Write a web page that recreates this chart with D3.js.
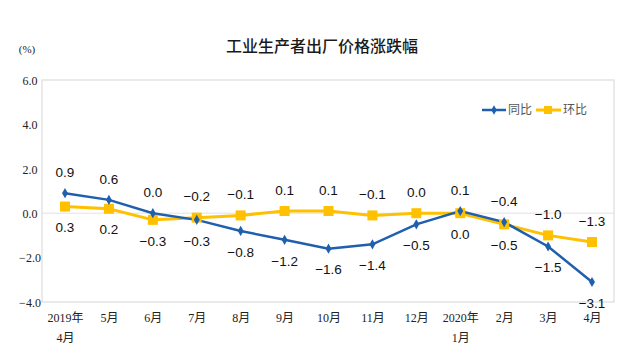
<!DOCTYPE html>
<html><head><meta charset="utf-8">
<script src="https://cdn.jsdelivr.net/npm/d3@7/dist/d3.min.js"></script>
<style>body{margin:0;background:#fff}svg{display:block}</style>
</head><body><svg id="c" width="632" height="355"></svg>
<script>
const categories = [["2019年","4月"],["5月"],["6月"],["7月"],["8月"],["9月"],["10月"],["11月"],["12月"],["2020年","1月"],["2月"],["3月"],["4月"]];
const yoy = [0.9,0.6,0.0,-0.3,-0.8,-1.2,-1.6,-1.4,-0.5,0.1,-0.4,-1.5,-3.1];
const mom = [0.3,0.2,-0.3,-0.2,-0.1,0.1,0.1,-0.1,0.0,0.0,-0.5,-1.0,-1.3];
// label placement: 1 = above, -1 = below
const yoyPos = [1,1,1,-1,-1,-1,-1,-1,-1,1,1,-1,-1];
const momPos = [-1,-1,-1,1,1,1,1,1,1,-1,-1,1,1];
const yTicks = [6,4,2,0,-2,-4];
const seriesNames = ["同比","环比"];

const svg = d3.select("#c");
const L=42,R=614,T=80,B=302;
const x = d3.scalePoint().domain(d3.range(categories.length)).range([65,592]);
const y = d3.scaleLinear().domain([-4,6]).range([B,T]);

svg.append("text").attr("x",322).attr("y",52).attr("text-anchor","middle")
  .attr("font-family","Noto Sans CJK SC").attr("font-weight",500).attr("font-size",16).attr("fill","#1a1a1a").text("工业生产者出厂价格涨跌幅");
svg.append("text").attr("x",27).attr("y",53).attr("text-anchor","middle")
  .attr("font-family","Liberation Serif").attr("font-size",11).attr("fill","#222").text("(%)");

svg.append("rect").attr("x",L).attr("y",T).attr("width",R-L).attr("height",B-T)
  .attr("fill","none").attr("stroke","#dcdcdc").attr("stroke-width",1.2);
svg.append("line").attr("x1",L).attr("x2",R).attr("y1",y(0)).attr("y2",y(0)).attr("stroke","#e3e3e3").attr("stroke-width",1);

const ya = d3.axisLeft(y).tickValues(yTicks).tickFormat(d3.format(".1f")).tickSize(0).tickPadding(0);
const gy = svg.append("g").attr("transform",`translate(${30},0)`).call(ya);
gy.select(".domain").remove();
gy.selectAll("text").attr("text-anchor","middle").attr("font-family","Liberation Serif").attr("font-size",12).attr("fill","#222").attr("dy","0.35em");

const xa = d3.axisBottom(x).tickSize(0).tickFormat(()=>"");
const gx = svg.append("g").attr("transform",`translate(0,${B})`).call(xa);
gx.select(".domain").remove();
gx.selectAll(".tick").each(function(d){
  const t = d3.select(this).append("text").attr("text-anchor","middle").attr("font-family","Liberation Serif, Noto Sans CJK SC").attr("font-size",12).attr("fill","#222");
  categories[d].forEach((s,i)=>t.append("tspan").attr("x",0).attr("y",20+i*20).text(s));
});

const blue="#1f5fae", yellow="#ffc000";
const line = d3.line().x((d,i)=>x(i)).y(d=>y(d));
svg.append("path").datum(mom).attr("d",line).attr("fill","none").attr("stroke",yellow).attr("stroke-width",3);
svg.append("path").datum(yoy).attr("d",line).attr("fill","none").attr("stroke",blue).attr("stroke-width",2.5);
svg.selectAll(".sq").data(mom).enter().append("rect").attr("x",(d,i)=>x(i)-5).attr("y",d=>y(d)-5).attr("width",10).attr("height",10).attr("fill",yellow);
svg.selectAll(".dm").data(yoy).enter().append("path").attr("d",d3.symbol(d3.symbolDiamond,30)).attr("transform",(d,i)=>`translate(${x(i)},${y(d)})`).attr("fill",blue);

function labels(data,pos){
  svg.append("g").selectAll("text").data(data).enter().append("text")
    .attr("x",(d,i)=>x(i)).attr("y",(d,i)=>y(d)-pos[i]*21).attr("dy","0.35em")
    .attr("text-anchor","middle").attr("font-family","Liberation Sans").attr("font-size",13.5).attr("fill","#111")
    .text(d=>d3.format(".1f")(d));
}
labels(yoy,yoyPos); labels(mom,momPos);

const lg = svg.append("g");
lg.append("line").attr("x1",482).attr("x2",506).attr("y1",110).attr("y2",110).attr("stroke",blue).attr("stroke-width",2.5);
lg.append("path").attr("d",d3.symbol(d3.symbolDiamond,25)).attr("transform","translate(494,110)").attr("fill",blue);
lg.append("text").attr("x",508).attr("y",110).attr("dy","0.35em").attr("font-family","Noto Sans CJK SC").attr("font-size",12).attr("fill","#555").text(seriesNames[0]);
lg.append("line").attr("x1",536).attr("x2",561).attr("y1",110).attr("y2",110).attr("stroke",yellow).attr("stroke-width",3);
lg.append("rect").attr("x",544).attr("y",106).attr("width",8).attr("height",8).attr("fill",yellow);
lg.append("text").attr("x",563).attr("y",110).attr("dy","0.35em").attr("font-family","Noto Sans CJK SC").attr("font-size",12).attr("fill","#555").text(seriesNames[1]);
</script></body></html>
